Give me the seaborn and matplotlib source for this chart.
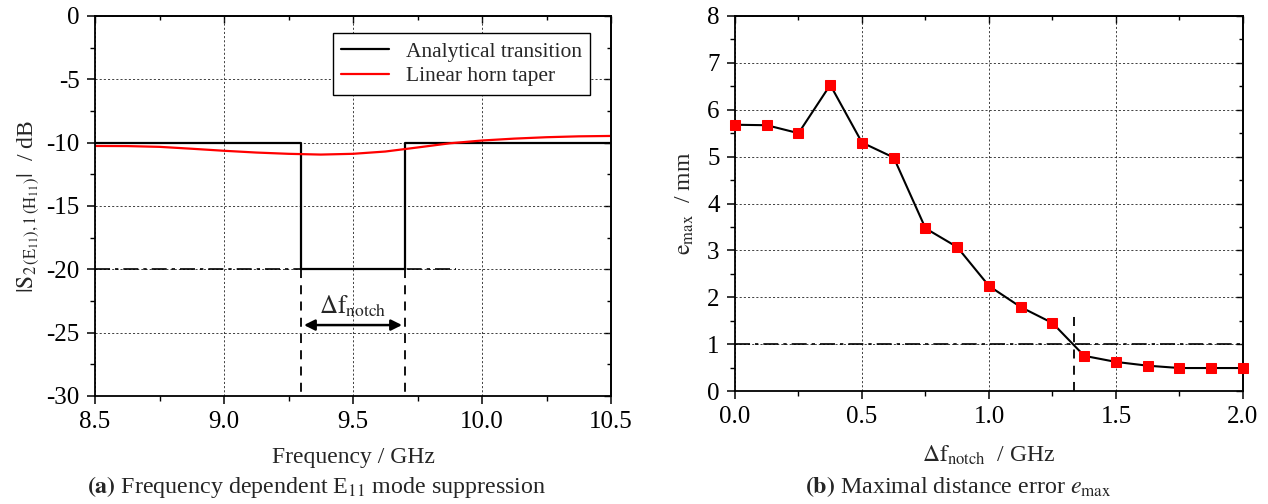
import numpy as np
import pandas as pd
import matplotlib
matplotlib.use("Agg")
import matplotlib.pyplot as plt
from matplotlib.ticker import MultipleLocator, FormatStrFormatter, NullFormatter
import seaborn as sns

# ---------------- data ----------------
# panel (a)
analytic_f = [8.5, 9.3, 9.3, 9.7, 9.7, 10.5]
analytic_s = [-10, -10, -20, -20, -10, -10]
horn_f = [8.5, 8.625, 8.75, 8.875, 9.0, 9.125, 9.25, 9.375, 9.5, 9.625,
          9.75, 9.875, 10.0, 10.125, 10.25, 10.375, 10.5]
horn_s = [-10.26, -10.27, -10.33, -10.48, -10.64, -10.78, -10.88, -10.94, -10.88,
          -10.70, -10.38, -10.05, -9.83, -9.68, -9.57, -9.50, -9.47]
notch_lo, notch_hi = 9.3, 9.7
limit_db = -20
limit_db_end = 9.9

# panel (b)
df_notch = [0.0, 0.125, 0.25, 0.375, 0.5, 0.625, 0.75, 0.875, 1.0, 1.125,
            1.25, 1.375, 1.5, 1.625, 1.75, 1.875, 2.0]
e_max = [5.68, 5.67, 5.50, 6.53, 5.30, 4.98, 3.47, 3.07, 2.24, 1.79,
         1.45, 0.75, 0.62, 0.54, 0.49, 0.49, 0.49]
e_limit = 1.0
df_cross = 1.335

# ---------------- style ----------------
sns.set_theme(style="ticks")
plt.rcParams["font.family"] = ["Liberation Serif", "DejaVu Serif"]
plt.rcParams["mathtext.fontset"] = "stix"
plt.rcParams["axes.unicode_minus"] = False

fig = plt.figure(figsize=(12.68, 5.04), dpi=100)
ax1 = fig.add_axes([95/1268, 1-396/504, 516/1268, 380/504])
ax2 = fig.add_axes([735/1268, 1-391/504, 508/1268, 375/504])

grid_kw = dict(color="#222222", lw=0.6, linestyle=(0, (2.5, 2.5)))

def style_axes(ax, xmaj, xmin, ymaj, ymin, xfmt, yfmt):
    ax.xaxis.set_major_locator(MultipleLocator(xmaj))
    ax.xaxis.set_minor_locator(MultipleLocator(xmin))
    ax.yaxis.set_major_locator(MultipleLocator(ymaj))
    ax.yaxis.set_minor_locator(MultipleLocator(ymin))
    ax.xaxis.set_major_formatter(FormatStrFormatter(xfmt))
    ax.yaxis.set_major_formatter(FormatStrFormatter(yfmt))
    ax.grid(True, which="major", **grid_kw)
    for s in ax.spines.values():
        s.set_color("black")
        s.set_linewidth(1.3)
        s.set_visible(True)
    ax.tick_params(which="major", direction="out", length=6, width=1.1,
                   labelsize=18, color="black", labelcolor="black", pad=5)
    ax.tick_params(which="minor", direction="out", length=3.5, width=1.0, color="black")
    # inward ticks on top and right
    secx = ax.secondary_xaxis("top")
    secx.xaxis.set_major_locator(MultipleLocator(xmaj))
    secx.xaxis.set_minor_locator(MultipleLocator(xmin))
    secx.xaxis.set_major_formatter(NullFormatter())
    secx.tick_params(which="major", direction="in", length=5, width=1.0, color="black")
    secx.tick_params(which="minor", direction="in", length=3, width=1.0, color="black")
    secx.spines["top"].set_linewidth(1.3)
    secy = ax.secondary_yaxis("right")
    secy.yaxis.set_major_locator(MultipleLocator(ymaj))
    secy.yaxis.set_minor_locator(MultipleLocator(ymin))
    secy.yaxis.set_major_formatter(NullFormatter())
    secy.tick_params(which="major", direction="in", length=5, width=1.0, color="black")
    secy.tick_params(which="minor", direction="in", length=3, width=1.0, color="black")
    secy.spines["right"].set_linewidth(1.3)
    ax.set_axisbelow(True)

# ---------------- panel (a) ----------------
dfa = pd.DataFrame({"f": analytic_f, "s": analytic_s})
dfh = pd.DataFrame({"f": horn_f, "s": horn_s})
sns.lineplot(data=dfa, x="f", y="s", ax=ax1, color="black", lw=1.6,
             estimator=None, sort=False, label="Analytical transition")
sns.lineplot(data=dfh, x="f", y="s", ax=ax1, color="red", lw=1.6,
             estimator=None, sort=False, label="Linear horn taper")
ax1.plot([8.5, limit_db_end], [limit_db, limit_db], color="black", lw=1.2,
         linestyle=(0, (9, 3, 2, 3)), zorder=1.5)
for fx in (notch_lo, notch_hi):
    ax1.plot([fx, fx], [limit_db, -30], color="black", lw=1.3,
             linestyle=(0, (5, 4)))
ax1.annotate("", xy=(notch_lo + 0.01, -24.4), xytext=(notch_hi - 0.01, -24.4),
             arrowprops=dict(arrowstyle="<|-|>", color="black", lw=1.8,
                             mutation_scale=16, shrinkA=0, shrinkB=0))
ax1.text(9.5, -22.9, r"$\Delta\mathrm{f}_{\mathrm{notch}}$", ha="center", va="center",
         fontsize=18)
ax1.set_xlim(8.5, 10.5)
ax1.set_ylim(-30, 0)
style_axes(ax1, 0.5, 0.25, 5, 2.5, "%.1f", "%d")
ax1.set_xlabel("Frequency / GHz", fontsize=17, labelpad=10)
ax1.set_ylabel(r"$|\mathrm{S}_{2\,(\mathrm{E}_{11}),1\,(\mathrm{H}_{11})}|$  / dB",
               fontsize=17, labelpad=4)
leg = ax1.legend(loc="upper right", bbox_to_anchor=(0.96, 0.955), borderaxespad=0,
                 fontsize=15.5, frameon=True, fancybox=False, edgecolor="black",
                 framealpha=1, handlelength=2.2, borderpad=0.4, labelspacing=0.2)
leg.get_frame().set_linewidth(1.0)

# ---------------- panel (b) ----------------
dfb = pd.DataFrame({"df": df_notch, "e": e_max})
sns.lineplot(data=dfb, x="df", y="e", ax=ax2, color="black", lw=1.5,
             marker="s", markersize=7, markerfacecolor="red", markeredgecolor="red",
             estimator=None, sort=False, clip_on=False, zorder=3)
ax2.axhline(e_limit, color="black", lw=1.2, linestyle=(0, (9, 3, 2, 3)), zorder=1.5)
ax2.plot([df_cross, df_cross], [0, 1.7], color="black", lw=1.3,
         linestyle=(0, (5, 4)))
ax2.set_xlim(0, 2.0)
ax2.set_ylim(0, 8)
style_axes(ax2, 0.5, 0.25, 1, 0.5, "%.1f", "%d")
ax2.set_xlabel(r"$\Delta\mathrm{f}_{\mathrm{notch}}$  / GHz", fontsize=17, labelpad=11)
ax2.set_ylabel(r"$\mathrm{e}_{\mathrm{max}}$  / mm", fontsize=17, labelpad=8)

# ---------------- captions ----------------
fig.text(317/1268, 1-487/504, r"$\mathbf{(a)}$ Frequency dependent E$_{11}$ mode suppression",
         ha="center", va="center", fontsize=17.3)
fig.text(958/1268, 1-487/504, r"$\mathbf{(b)}$ Maximal distance error $e_{\mathrm{max}}$",
         ha="center", va="center", fontsize=17.3)

fig.savefig("out.png", dpi=100)
